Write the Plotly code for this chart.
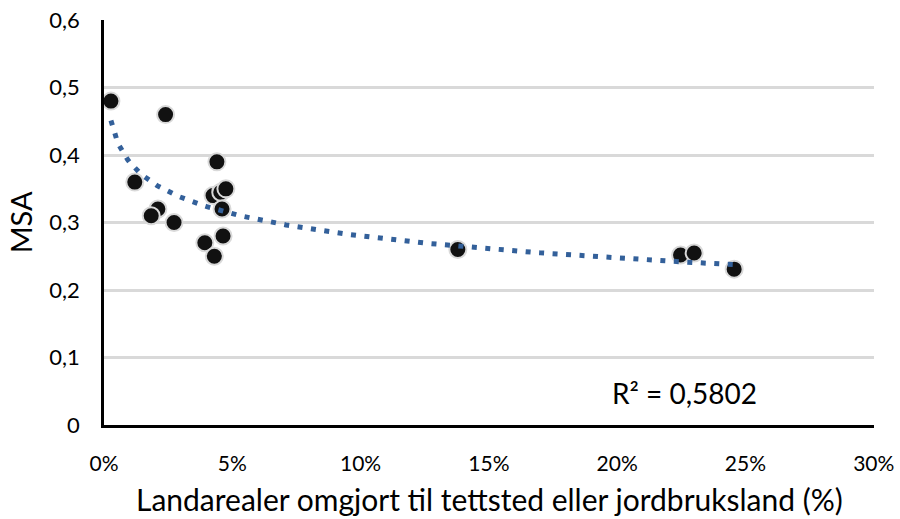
import numpy as np
import plotly.graph_objects as go

# Data (x as fraction of land converted, y = MSA)
x_share = [0.0027, 0.024, 0.012, 0.044, 0.0425, 0.0455, 0.0475, 0.046, 0.021, 0.0184,
           0.0273, 0.0464, 0.0393, 0.043, 0.1379, 0.2247, 0.230, 0.2456]
msa = [0.48, 0.46, 0.36, 0.39, 0.34, 0.345, 0.35, 0.32, 0.32, 0.31,
       0.30, 0.28, 0.27, 0.25, 0.26, 0.252, 0.255, 0.231]
x_ticks = [0, 0.05, 0.10, 0.15, 0.20, 0.25, 0.30]
y_ticks = [0, 0.1, 0.2, 0.3, 0.4, 0.5, 0.6]
r2_label = "R² = 0,5802"
x_title = "Landarealer omgjort til tettsted eller jordbruksland (%)"
y_title = "MSA"

# Logarithmic trendline (least squares on ln x)
xs = np.array(x_share)
ys = np.array(msa)
a, b = np.polyfit(np.log(xs), ys, 1)
xt = np.linspace(xs.min(), xs.max(), 300)
yt = a * np.log(xt) + b

FONT = "Lato"
fig = go.Figure()
fig.add_trace(go.Scatter(
    x=x_share, y=msa, mode="markers",
    marker=dict(size=17, color="#111111", line=dict(color="#d9d9d9", width=2)),
    showlegend=False, hoverinfo="x+y"))
fig.add_trace(go.Scatter(
    x=xt, y=yt, mode="lines",
    line=dict(color="#33609a", width=5, dash="5px,8.5px"),
    showlegend=False, hoverinfo="skip"))

fig.add_annotation(x=0.2263, y=0.048, xref="x", yref="y", text=r2_label,
                   showarrow=False, font=dict(family=FONT, size=28, color="#000000"))
# Axis titles as annotations (exact placement)
fig.add_annotation(x=0.5, y=-0.183, xref="paper", yref="paper", text=x_title,
                   showarrow=False, xanchor="center", yanchor="middle",
                   font=dict(family=FONT, size=30, color="#000000"))
fig.add_annotation(x=-0.108, y=0.5, xref="paper", yref="paper", text=y_title,
                   showarrow=False, xanchor="center", yanchor="middle", textangle=-90,
                   font=dict(family=FONT, size=29, color="#000000"))

fig.update_layout(
    width=900, height=519,
    margin=dict(l=104, r=26, t=20, b=94),
    paper_bgcolor="white", plot_bgcolor="white",
    separators=", ",
    font=dict(family=FONT, color="#000000"),
)
fig.update_xaxes(
    range=[0, 0.3001], tickvals=x_ticks, tickformat=".0%",
    showgrid=False, zeroline=False, automargin=False,
    showline=True, linecolor="#000000", linewidth=2.5,
    ticks="", ticklabelstandoff=18, ticklabeloverflow="allow",
    tickfont=dict(family=FONT, size=21),
)
fig.update_yaxes(
    range=[0, 0.6002], tickvals=y_ticks, tickformat="~r",
    showgrid=True, gridcolor="#d9d9d9", gridwidth=2.5,
    zeroline=False, automargin=False,
    showline=True, linecolor="#000000", linewidth=2.5,
    ticks="outside", ticklen=17, tickcolor="rgba(0,0,0,0)", ticklabeloverflow="allow",
    tickfont=dict(family=FONT, size=22),
)
fig.write_html("out.html", config={"displayModeBar": False},
               post_script="document.body.style.margin='0';")
